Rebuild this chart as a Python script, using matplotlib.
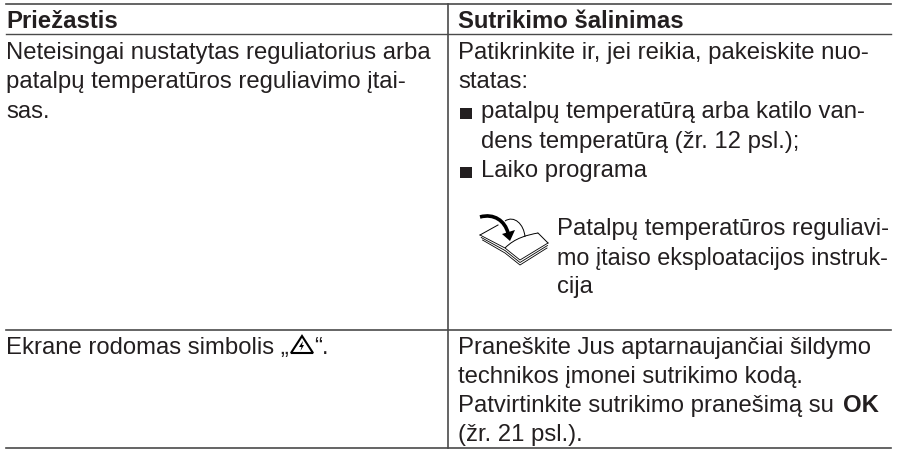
import matplotlib
matplotlib.use('Agg')
import matplotlib.pyplot as plt
from matplotlib.patches import Polygon, PathPatch, Rectangle
from matplotlib.path import Path

plt.rcParams['font.family'] = ['Liberation Sans', 'DejaVu Sans']

W, H = 898, 449
TXT = '#231f20'
LINE = '#4a4a4a'
FS = 17.2

# table text
header_left = 'Priežastis'
header_right = 'Sutrikimo šalinimas'
left_lines = ['Neteisingai nustatytas reguliatorius arba',
              'patalpų temperatūros reguliavimo įtai-',
              'sas.']
right_lines = ['Patikrinkite ir, jei reikia, pakeiskite nuo-', 'statas:']
bullet_lines = ['patalpų temperatūrą arba katilo van-',
                'dens temperatūrą (žr. 12 psl.);',
                'Laiko programa']
note_lines = ['Patalpų temperatūros reguliavi-',
              'mo įtaiso eksploatacijos instruk-',
              'cija']
row2_right = ['Praneškite Jus aptarnaujančiai šildymo',
              'technikos įmonei sutrikimo kodą.',
              'Patvirtinkite sutrikimo pranešimą su',
              '(žr. 21 psl.).']

fig = plt.figure(figsize=(W / 100, H / 100), dpi=100)
ax = fig.add_axes([0, 0, 1, 1])
ax.set_xlim(0, W)
ax.set_ylim(H, 0)
ax.axis('off')


def text(x, y, s, size=FS, **kw):
    ax.text(x, y, s, fontsize=size, color=TXT, va='baseline', ha='left', **kw)


# rules
ax.plot([6, 891], [4, 4], color=LINE, lw=1.2)
ax.plot([6, 891], [34, 34], color=LINE, lw=1.0)
ax.plot([6, 891], [330, 330], color=LINE, lw=1.2)
ax.plot([6, 891], [448, 448], color=LINE, lw=1.2)
ax.plot([448, 448], [4, 448], color=LINE, lw=1.2)

text(6, 28, header_left, fontweight='bold')
text(458, 28, header_right, fontweight='bold')

for y, s in zip([59, 88, 118], left_lines):
    text(6, y, s)
for y, s in zip([59, 88], right_lines):
    text(458, y, s)

for y, s in zip([118, 148, 177], bullet_lines):
    text(481, y, s)
for y in [107.5, 166.5]:
    ax.add_patch(Rectangle((460, y), 11.5, 11.5, color=TXT, lw=0))

text(557, 235.5, note_lines[0])
text(557, 264.5, note_lines[1], size=16.8)
text(557, 293.5, note_lines[2])

for y, s in zip([354, 383, 412, 441], row2_right):
    text(458, y, s)
text(843, 412, 'OK', fontweight='bold')

# warning triangle
text(6, 354, 'Ekrane rodomas simbolis „')
ax.add_patch(Polygon([[302, 336], [291, 353], [313, 353]], closed=True,
                     fill=False, ec='black', lw=1.5, joinstyle='miter'))
ax.add_patch(Polygon([[303, 341], [299, 347], [301.5, 347], [300.5, 351], [304, 345], [302, 345]],
                     closed=True, color='black', lw=0))
text(314, 354, '“.')

# book icon
for dy in [0, 2.5, 5]:
    ax.plot([480 + dy / 2, 505, 520, 548 - dy / 5],
            [235 + dy, 248 + dy, 260 + dy, 243 + dy], color='black', lw=0.6)
ax.plot([480, 498], [235, 225], color='black', lw=0.7)
right_page = Path([(505, 248), (515, 238), (527, 235), (538, 233)],
                  [Path.MOVETO, Path.CURVE4, Path.CURVE4, Path.CURVE4])
ax.add_patch(PathPatch(right_page, fill=False, ec='black', lw=0.7))
ax.plot([538, 548], [233, 243], color='black', lw=0.7)
page = Path([(505, 221), (514, 215), (524, 224), (525, 237)],
            [Path.MOVETO, Path.CURVE4, Path.CURVE4, Path.CURVE4])
ax.add_patch(PathPatch(page, fill=False, ec='black', lw=0.7))
arrow = Path([(480, 217), (494, 213), (505, 221), (508, 233)],
             [Path.MOVETO, Path.CURVE4, Path.CURVE4, Path.CURVE4])
ax.add_patch(PathPatch(arrow, fill=False, ec='black', lw=2.6))
ax.add_patch(Polygon([[502, 234], [515, 230], [510, 241]], closed=True, color='black', lw=0))

fig.savefig('out.png', dpi=100)
